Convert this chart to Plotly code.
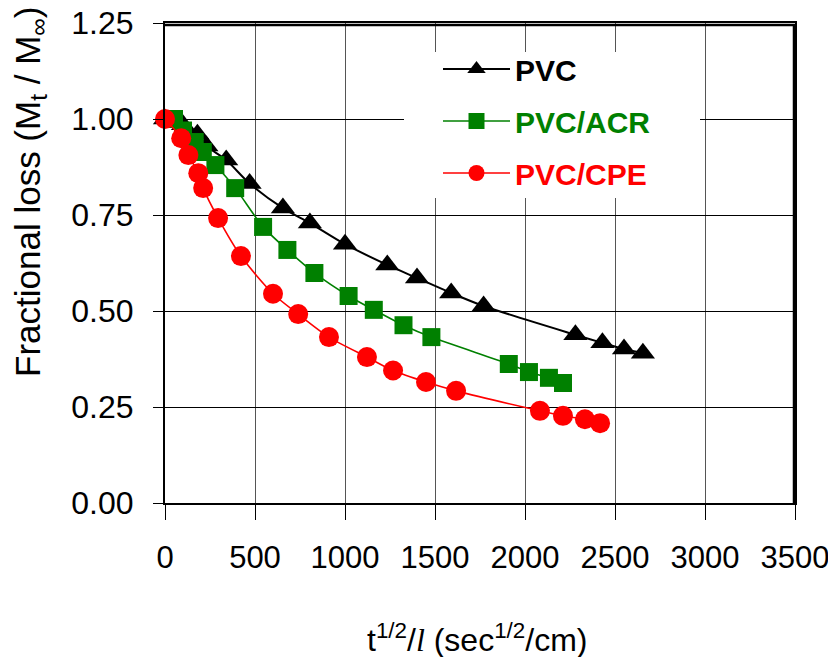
import plotly.graph_objects as go

# ---- data ----
pvc_x = [0, 100, 180, 230, 340, 470, 655, 805, 1000, 1235, 1400, 1590, 1770, 2280, 2430, 2550, 2655]
pvc_y = [1.0, 0.985, 0.96, 0.93, 0.893, 0.832, 0.768, 0.729, 0.674, 0.62, 0.586, 0.547, 0.513, 0.438, 0.417, 0.401, 0.39]

acr_x = [50, 100, 165, 210, 280, 390, 545, 680, 830, 1020, 1160, 1325, 1480, 1910, 2022, 2133, 2211]
acr_y = [1.0, 0.97, 0.94, 0.914, 0.88, 0.82, 0.719, 0.659, 0.599, 0.539, 0.503, 0.463, 0.432, 0.362, 0.341, 0.326, 0.3125]

cpe_x = [0, 90, 130, 185, 212, 295, 422, 600, 740, 911, 1122, 1267, 1450, 1617, 2083, 2211, 2333, 2417]
cpe_y = [1.0, 0.95, 0.906, 0.859, 0.82, 0.742, 0.643, 0.545, 0.492, 0.432, 0.38, 0.345, 0.315, 0.292, 0.24, 0.227, 0.218, 0.208]

names = ["PVC", "PVC/ACR", "PVC/CPE"]
colors = ["#000000", "#008000", "#FF0000"]
symbols = ["triangle-up", "square", "circle"]

x_ticks = [0, 500, 1000, 1500, 2000, 2500, 3000, 3500]
y_ticks = [0.0, 0.25, 0.5, 0.75, 1.0, 1.25]

series = [(pvc_x, pvc_y), (acr_x, acr_y), (cpe_x, cpe_y)]
line_widths = [2, 1.6, 1.6]
marker_sizes = [21, 18, 20]

fig = go.Figure()
for i, (xs, ys) in enumerate(series):
    fig.add_trace(go.Scatter(
        x=xs, y=ys, mode="lines+markers",
        name="<b><span style='color:%s'>%s</span></b>" % (colors[i], names[i]),
        line=dict(color=colors[i], width=line_widths[i], shape="spline", smoothing=0.8),
        marker=dict(symbol=symbols[i], size=marker_sizes[i], color=colors[i], line=dict(width=0)),
        cliponaxis=False,
        legendgroup=names[i],
    ))

FONT = "Liberation Sans, Arial, sans-serif"

# the page body adds an 8px margin on every side; size the figure to fit inside it
OFF = 8
W, H = 836 - 2 * OFF, 665 - 2 * OFF
L, R, T, B = 165, 795, 23, 503  # plot area in page pixels


def px_x(p):
    return (p - L) / (R - L)


def px_y(p):
    return (B - p) / (B - T)


# white box behind the legend (hides gridlines there)
fig.add_shape(type="rect", xref="paper", yref="paper",
              x0=px_x(404), x1=px_x(700), y0=px_y(198), y1=px_y(52),
              fillcolor="white", line=dict(width=0), layer="above")
# top and right frame edges (drawn just inside the plot edge)
fig.add_shape(type="line", xref="paper", yref="paper", x0=px_x(L - 1), x1=px_x(R + 1),
              y0=px_y(T + 2), y1=px_y(T + 2),
              line=dict(color="black", width=2.5), layer="above")
fig.add_shape(type="line", xref="paper", yref="paper",
              x0=px_x(R - 1), x1=px_x(R - 1), y0=0, y1=px_y(T + 1),
              line=dict(color="black", width=2.5), layer="above")

fig.update_layout(
    width=W, height=H,
    margin=dict(l=L - OFF, r=W + OFF - R, t=T - OFF, b=H + OFF - B, autoexpand=False),
    paper_bgcolor="white", plot_bgcolor="white",
    font=dict(family=FONT, color="black"),
    showlegend=True,
    legend=dict(
        x=px_x(438), y=px_y(43), xanchor="left", yanchor="top",
        bgcolor="rgba(0,0,0,0)", borderwidth=0,
        font=dict(family=FONT, size=30, color="black"),
        itemwidth=67, traceorder="grouped", tracegroupgap=10,
    ),
    annotations=[
        dict(text="Fractional loss (M<sub>t</sub> / M<sub>∞</sub>)", textangle=-90,
             xref="paper", yref="paper", x=px_x(30), y=px_y(192),
             xanchor="center", yanchor="middle", showarrow=False,
             font=dict(family=FONT, size=35, color="black")),
        dict(text="t<sup>1/2</sup>/<span style=\"font-family:'Liberation Serif'\"><i>l</i></span> (sec<sup>1/2</sup>/cm)",
             xref="paper", yref="paper", x=px_x(477), y=px_y(638),
             xanchor="center", yanchor="middle", showarrow=False,
             font=dict(family=FONT, size=32, color="black")),
    ],
)

fig.update_xaxes(
    range=[0, 3500], tickvals=x_ticks, ticktext=[str(v) for v in x_ticks],
    showline=True, linecolor="black", linewidth=2, mirror=True,
    ticks="outside", ticklen=15, tickcolor="black", tickwidth=1,
    showgrid=True, gridcolor="#555555", gridwidth=1.2,
    zeroline=False, tickfont=dict(family=FONT, size=31, color="black"),
    ticklabelstandoff=11, automargin=False, ticklabeloverflow="allow",
)
fig.update_yaxes(
    range=[0, 1.25], tickvals=y_ticks, ticktext=["%.2f" % v for v in y_ticks],
    showline=True, linecolor="black", linewidth=2, mirror=True,
    ticks="outside", ticklen=10, tickcolor="black", tickwidth=1,
    showgrid=True, gridcolor="black", gridwidth=1,
    zeroline=False, tickfont=dict(family=FONT, size=32, color="black"),
    ticklabelstandoff=13, automargin=False, ticklabeloverflow="allow",
)

fig.write_html("out.html")
